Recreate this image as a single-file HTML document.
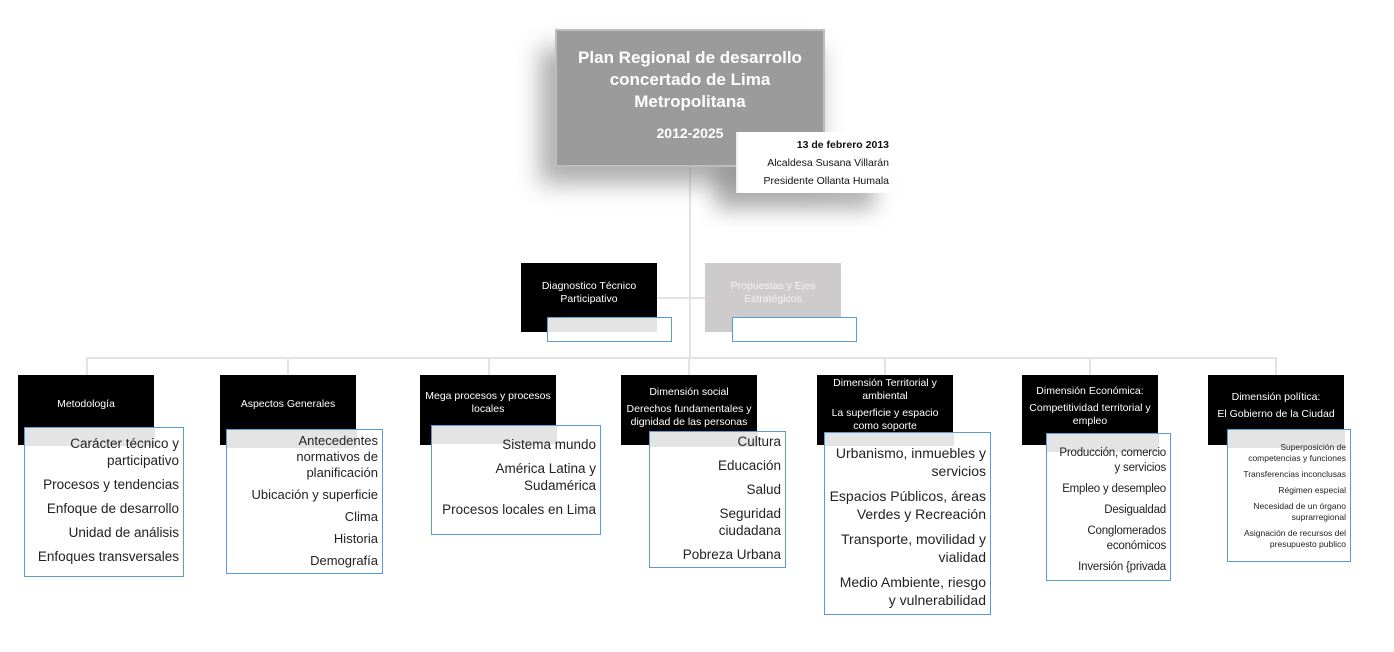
<!DOCTYPE html>
<html><head><meta charset="utf-8"><style>
body{margin:0;width:1394px;height:652px;background:#fff;position:relative;overflow:hidden;font-family:"Liberation Sans",sans-serif}
.a{position:absolute}
.ln{position:absolute;background:#e3e3e3}
.blk{position:absolute;background:#000;color:#fff;font-size:10.5px;text-align:center;display:flex;flex-direction:column;justify-content:center;line-height:13px;box-sizing:border-box;padding:0 4px}
.blk p{margin:2px 0}
.lst{position:absolute;border:1px solid #5b9bd5;background:#fff;box-sizing:border-box;text-align:right;padding:7px 4px 0 4px;font-size:13.5px;line-height:17px;color:#222;white-space:nowrap}
.lst .g{position:absolute;left:0;top:0;height:18px;background:#e4e4e4}
.lst p{margin:0 0 7px 0;position:relative}
</style></head><body>
<div class="ln" style="left:689px;top:167px;width:2px;height:192px"></div>
<div class="ln" style="left:86px;top:357px;width:1191px;height:2px"></div>
<div class="ln" style="left:657px;top:297px;width:48px;height:2px"></div>
<div class="ln" style="left:86px;top:358px;width:2px;height:17px"></div>
<div class="ln" style="left:287px;top:358px;width:2px;height:17px"></div>
<div class="ln" style="left:488px;top:358px;width:2px;height:17px"></div>
<div class="ln" style="left:688px;top:358px;width:2px;height:17px"></div>
<div class="ln" style="left:884px;top:358px;width:2px;height:17px"></div>
<div class="ln" style="left:1089px;top:358px;width:2px;height:17px"></div>
<div class="ln" style="left:1275px;top:358px;width:2px;height:17px"></div>

<div class="a" style="left:540px;top:48px;width:280px;height:136px;background:#777;filter:blur(12px);opacity:.6"></div>
<div class="a" style="left:715px;top:162px;width:160px;height:48px;background:#777;filter:blur(10px);opacity:.55"></div>
<div class="a" style="left:555px;top:29px;width:270px;height:138px;background:#9b9b9b;border:2px solid #bdbdbd;box-sizing:border-box;color:#fff;font-weight:bold;text-align:center">
<div style="font-size:17px;line-height:22px;margin-top:16px">Plan Regional de desarrollo<br>concertado de Lima<br>Metropolitana</div>
<div style="font-size:14px;margin-top:12px">2012-2025</div></div>
<div class="a" style="left:736px;top:132px;width:155px;height:61px;background:#fff;border-left:2px solid #eee;box-sizing:border-box;text-align:right;font-size:10.5px;line-height:18px;padding:4px 2px 0 0;color:#111">
<b>13 de febrero 2013</b><br>Alcaldesa Susana Villarán<br>Presidente Ollanta Humala</div>

<div class="blk" style="left:521px;top:263px;width:136px;height:69px;padding-bottom:10px">Diagnostico Técnico<br>Participativo</div>
<div class="a" style="left:547px;top:317px;width:110px;height:15px;background:#e4e4e4"></div>
<div class="a" style="left:547px;top:317px;width:125px;height:25px;border:1px solid #5b9bd5;box-sizing:border-box"></div>
<div class="blk" style="left:705px;top:263px;width:136px;height:69px;background:#cdcbcb;color:#f3f3f3;padding-bottom:10px">Propuestas y Ejes<br>Estratégicos</div>
<div class="a" style="left:732px;top:317px;width:125px;height:25px;border:1px solid #5b9bd5;box-sizing:border-box;background:#fff"></div>

<div class="blk" style="left:18px;top:375px;width:136px;height:70px;padding-bottom:12px">Metodología</div>
<div class="lst" style="left:24px;top:427px;width:160px;height:150px"><div class="g" style="width:130px"></div>
<p>Carácter técnico y<br>participativo</p><p>Procesos y tendencias</p><p>Enfoque de desarrollo</p><p>Unidad de análisis</p><p>Enfoques transversales</p></div>

<div class="blk" style="left:220px;top:375px;width:136px;height:70px;padding-bottom:12px">Aspectos Generales</div>
<div class="lst" style="left:226px;top:429px;width:157px;height:145px;padding-top:3px;font-size:13px;line-height:16px"><div class="g" style="width:130px"></div>
<p style="margin-bottom:6px">Antecedentes<br>normativos de<br>planificación</p><p style="margin-bottom:6px">Ubicación y superficie</p><p style="margin-bottom:6px">Clima</p><p style="margin-bottom:6px">Historia</p><p>Demografía</p></div>

<div class="blk" style="left:420px;top:375px;width:136px;height:70px;padding-bottom:14px">Mega procesos y procesos<br>locales</div>
<div class="lst" style="left:431px;top:425px;width:170px;height:110px;padding-top:10px"><div class="g" style="width:125px"></div>
<p>Sistema mundo</p><p>América Latina y<br>Sudamérica</p><p>Procesos locales en Lima</p></div>

<div class="blk" style="left:621px;top:375px;width:136px;height:70px;padding-bottom:6px"><p>Dimensión social</p><p>Derechos fundamentales y<br>dignidad de las personas</p></div>
<div class="lst" style="left:649px;top:431px;width:137px;height:137px;padding-top:1px"><div class="g" style="width:108px;height:15px"></div>
<p>Cultura</p><p>Educación</p><p>Salud</p><p>Seguridad<br>ciudadana</p><p>Pobreza Urbana</p></div>

<div class="blk" style="left:817px;top:375px;width:136px;height:70px;padding-bottom:10px"><p>Dimensión Territorial y<br>ambiental</p><p>La superficie y espacio<br>como soporte</p></div>
<div class="lst" style="left:824px;top:432px;width:167px;height:183px;padding-top:11px;font-size:14px;line-height:18px"><div class="g" style="width:129px;height:13px"></div>
<p>Urbanismo, inmuebles y<br>servicios</p><p>Espacios Públicos, áreas<br>Verdes y Recreación</p><p>Transporte, movilidad y<br>vialidad</p><p>Medio Ambiente, riesgo<br>y vulnerabilidad</p></div>

<div class="blk" style="left:1022px;top:375px;width:136px;height:70px;padding-bottom:8px"><p>Dimensión Económica:</p><p>Competitividad territorial y<br>empleo</p></div>
<div class="lst" style="left:1046px;top:433px;width:125px;height:148px;padding-top:12px;font-size:11.5px;line-height:15px;letter-spacing:-0.2px"><div class="g" style="width:112px"></div>
<p style="margin-bottom:6px">Producción, comercio<br>y servicios</p><p style="margin-bottom:6px">Empleo y desempleo</p><p style="margin-bottom:6px">Desigualdad</p><p style="margin-bottom:6px">Conglomerados<br>económicos</p><p>Inversión {privada</p></div>

<div class="blk" style="left:1208px;top:375px;width:136px;height:70px;padding-bottom:8px"><p>Dimensión política:</p><p>El Gobierno de la Ciudad</p></div>
<div class="lst" style="left:1227px;top:429px;width:124px;height:133px;padding-top:12px;font-size:8.5px;line-height:11px"><div class="g" style="width:117px"></div>
<p style="margin-bottom:5px">Superposición de<br>competencias y funciones</p><p style="margin-bottom:5px">Transferencias inconclusas</p><p style="margin-bottom:5px">Régimen especial</p><p style="margin-bottom:5px">Necesidad de un órgano<br>suprarregional</p><p>Asignación de recursos del<br>presupuesto publico</p></div>
</body></html>
